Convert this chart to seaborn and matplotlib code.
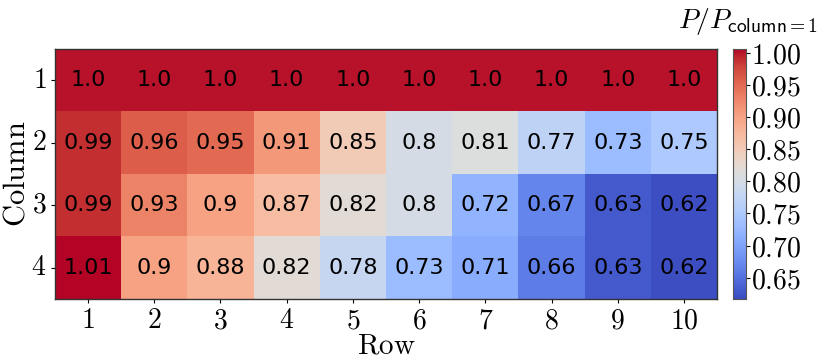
import numpy as np
import pandas as pd
import matplotlib
matplotlib.use('Agg')
import matplotlib.pyplot as plt
import seaborn as sns

rows = [1, 2, 3, 4, 5, 6, 7, 8, 9, 10]
columns = [1, 2, 3, 4]

col1 = [1.0, 1.0, 1.0, 1.0, 1.0, 1.0, 1.0, 1.0, 1.0, 1.0]
col2 = [0.99, 0.96, 0.95, 0.91, 0.85, 0.8, 0.81, 0.77, 0.73, 0.75]
col3 = [0.99, 0.93, 0.9, 0.87, 0.82, 0.8, 0.72, 0.67, 0.63, 0.62]
col4 = [1.01, 0.9, 0.88, 0.82, 0.78, 0.73, 0.71, 0.66, 0.63, 0.62]

plt.rcParams['mathtext.fontset'] = 'cm'
plt.rcParams['font.family'] = 'serif'
plt.rcParams['font.serif'] = ['DejaVu Serif']

df = pd.DataFrame([col1, col2, col3, col4], index=columns, columns=rows)
labels = df.map(str)

fig = plt.figure(figsize=(8.31, 3.62), dpi=100)
ax = fig.add_axes([0.066, 0.174, 0.797, 0.691])
cax = fig.add_axes([0.882, 0.174, 0.0156, 0.691])

sns.heatmap(df, cmap='coolwarm', vmin=0.617, vmax=1.006, annot=labels, fmt='',
            annot_kws={'fontsize': 16, 'color': 'black', 'family': 'DejaVu Sans'},
            ax=ax, cbar_ax=cax)

for s in ax.spines.values():
    s.set_visible(True)
    s.set_linewidth(1.0)
    s.set_color('#333333')

ax.set_xticklabels([r'$%d$' % r for r in rows], fontsize=20, rotation=0)
ax.set_yticklabels([r'$%d$' % c for c in columns], fontsize=20, rotation=0)
ax.tick_params(length=3, width=0.8, pad=3)
ax.set_xlabel(r'$\mathrm{Row}$', fontsize=21, labelpad=-2)
ax.set_ylabel(r'$\mathrm{Column}$', fontsize=22, labelpad=0)

ticks = [0.65, 0.70, 0.75, 0.80, 0.85, 0.90, 0.95, 1.00]
cax.set_yticks(ticks)
cax.set_yticklabels([r'$%.2f$' % t for t in ticks], fontsize=20)
cax.tick_params(length=3, width=0.8, pad=1)
for s in cax.spines.values():
    s.set_visible(True)
    s.set_color('#555555')
cax.set_title(r'$P/P_{\mathsf{column=1}}$', fontsize=20, pad=15, x=1.2)

fig.savefig('out.png', dpi=100)
